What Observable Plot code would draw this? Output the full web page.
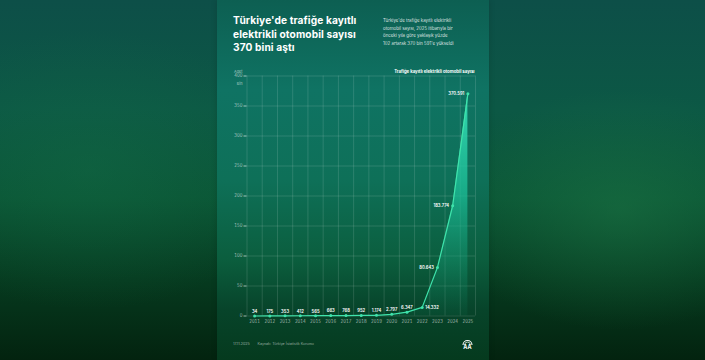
<!DOCTYPE html>
<html lang="tr">
<head>
<meta charset="utf-8">
<script src="https://cdn.jsdelivr.net/npm/d3@7"></script>
<script src="https://cdn.jsdelivr.net/npm/@observablehq/plot@0.6"></script>
<style>
  html, body { margin: 0; padding: 0; }
  body {
    width: 705px; height: 360px; overflow: hidden; position: relative;
    font-family: Inter, "Noto Sans", sans-serif;
    background:
      radial-gradient(ellipse 180px 120px at 620px 210px, rgba(30,120,70,0.5), rgba(30,120,70,0) 100%),
      radial-gradient(ellipse 200px 140px at 90px 170px, rgba(20,110,70,0.4), rgba(20,110,70,0) 100%),
      linear-gradient(180deg, #0d4f48 0%, #0c5845 30%, #0a5535 55%, #063a1f 78%, #03230f 100%);
  }
  #poster {
    position: absolute; left: 217px; top: 0; width: 272px; height: 360px;
    background: linear-gradient(180deg, #0d5f52 0%, #0f7363 25%, #0e7058 50%, #0b5e3e 72%, #07442a 86%, #053a1e 100%);
    box-shadow: 0 0 6px rgba(0,0,0,0.15);
  }
  #title {
    position: absolute; left: 16px; top: 14px; margin: 0;
    color: #fff; font-weight: 700; font-size: 10.2px; line-height: 13.5px; letter-spacing: 0.1px;
  }
  #subtitle {
    position: absolute; left: 166px; top: 17px; margin: 0;
    color: rgba(255,255,255,0.85); font-size: 4.4px; line-height: 7.6px;
  }
  #chart { position: absolute; left: 0; top: 60px; }
  #footer {
    position: absolute; left: 16px; top: 342px;
    color: rgba(255,255,255,0.55); font-size: 3.6px;
  }
  #footer span + span { margin-left: 8px; }
  #logo { position: absolute; left: 244px; top: 337px; }
</style>
</head>
<body>
<div id="poster">
  <div id="title">Türkiye'de trafiğe kayıtlı<br>elektrikli otomobil sayısı<br>370 bini aştı</div>
  <div id="subtitle">Türkiye'de trafiğe kayıtlı elektrikli<br>otomobil sayısı, 2025 itibarıyla bir<br>önceki yıla göre yaklaşık yüzde<br>102 artarak 370 bin 591'e yükseldi</div>
  <div id="chart"></div>
  <div id="footer"><span>17.11.2025</span><span>Kaynak: Türkiye İstatistik Kurumu</span></div>
  <svg id="logo" width="13" height="13" viewBox="0 0 13 13">
    <path d="M2 8 A4.5 4.5 0 0 1 11 8" fill="none" stroke="#fff" stroke-width="1.1"/>
    <path d="M3.6 8 A2.9 2.9 0 0 1 9.4 8" fill="none" stroke="#fff" stroke-width="0.7"/>
    <text x="6.5" y="11.5" text-anchor="middle" fill="#fff" font-size="5.5" font-weight="700" font-family="Inter, sans-serif">AA</text>
  </svg>
</div>
<script>
// Registered electric cars in Türkiye, by year
const years = [2011, 2012, 2013, 2014, 2015, 2016, 2017, 2018, 2019, 2020, 2021, 2022, 2023, 2024, 2025];
const counts = [34, 175, 353, 412, 565, 663, 768, 952, 1174, 2797, 6347, 14332, 80643, 183774, 370591];
const yTicks = [0, 50000, 100000, 150000, 200000, 250000, 300000, 350000, 400000];
const chartTitle = "Trafiğe kayıtlı elektrikli otomobil sayısı";
const unitTop = "Adet";
const unitBottom = "Bin";

const data = years.map((year, i) => ({year, count: counts[i], i}));
// Grid lines sit between the years
const edges = years.map(y => y - 0.5).concat(years[years.length - 1] + 0.5);

const fmt = d3.formatLocale({decimal: ",", thousands: ".", grouping: [3], currency: ["", ""]}).format(",d");

const gradient = () => {
  const defs = d3.create("svg:defs");
  const g = defs.append("linearGradient")
    .attr("id", "evFill").attr("x1", 0).attr("x2", 0).attr("y1", 0).attr("y2", 1);
  g.append("stop").attr("offset", "0%").attr("stop-color", "#37e0b6").attr("stop-opacity", 0.95);
  g.append("stop").attr("offset", "45%").attr("stop-color", "#1cbf98").attr("stop-opacity", 0.75);
  g.append("stop").attr("offset", "100%").attr("stop-color", "#0f8a66").attr("stop-opacity", 0.1);
  return defs.node();
};

const lineColor = "#3fe3ab";
const labelStyle = {fill: "#fff", fontSize: 4.2, fontWeight: 600};

const chart = Plot.plot({
  width: 272,
  height: 270,
  marginLeft: 29.5,
  marginRight: 14,
  marginTop: 15.5,
  marginBottom: 14.5,
  style: {
    background: "transparent",
    color: "rgba(255,255,255,0.62)",
    fontFamily: "Inter, 'Noto Sans', sans-serif",
    fontSize: "4.2px",
    overflow: "visible"
  },
  x: {domain: [edges[0], edges[edges.length - 1]], ticks: years, tickFormat: d => String(d), tickSize: 0, tickPadding: 4.5, label: null},
  y: {domain: [0, 400000], ticks: yTicks, tickFormat: d => d / 1000, tickSize: 3, tickPadding: 1.5, label: null},
  marks: [
    gradient,
    Plot.ruleY(yTicks, {stroke: "#fff", strokeOpacity: 0.22, strokeWidth: 0.6}),
    Plot.ruleX(edges, {stroke: "#fff", strokeOpacity: 0.22, strokeWidth: 0.6}),
    Plot.areaY(data, {x: "year", y: "count", fill: "url(#evFill)"}),
    Plot.lineY(data, {x: "year", y: "count", stroke: lineColor, strokeWidth: 1.2}),
    Plot.dot(data, {x: "year", y: "count", r: 1.5, fill: lineColor}),
    Plot.text(data.filter(d => d.i <= 10), {x: "year", y: "count", text: d => fmt(d.count), dy: -4.5, ...labelStyle}),
    Plot.text(data.filter(d => d.i === 11), {x: "year", y: "count", text: d => fmt(d.count), dx: 3, textAnchor: "start", ...labelStyle}),
    Plot.text(data.filter(d => d.i > 11), {x: "year", y: "count", text: d => fmt(d.count), dx: -3.5, textAnchor: "end", ...labelStyle}),
    Plot.text([chartTitle], {frameAnchor: "top-right", dx: -1, dy: -6.5, fill: "#fff", fontWeight: 700, fontSize: 4.3}),
    Plot.text([unitTop], {frameAnchor: "top-left", dx: -4.5, dy: -5.5, textAnchor: "end", fill: "rgba(255,255,255,0.62)", fontSize: 3.8}),
    Plot.text([unitBottom], {frameAnchor: "top-left", dx: -4.5, dy: 6, textAnchor: "end", fill: "rgba(255,255,255,0.62)", fontSize: 3.8})
  ]
});
document.getElementById("chart").appendChild(chart);
</script>
</body>
</html>
